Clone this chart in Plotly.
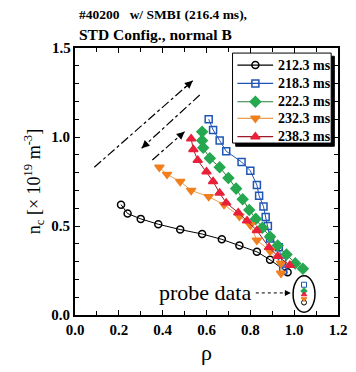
import plotly.graph_objects as go

# ---- data ----
rho_212 = [0.21, 0.24, 0.30, 0.38, 0.48, 0.58, 0.67, 0.75, 0.83, 0.89, 0.97]
n_212 = [0.62, 0.57, 0.54, 0.51, 0.48, 0.455, 0.425, 0.39, 0.355, 0.31, 0.24]

rho_218 = [0.61, 0.63, 0.66, 0.69, 0.76, 0.80, 0.83, 0.84, 0.86, 0.87, 0.88, 0.89, 0.93, 0.945, 0.95]
n_218 = [1.10, 1.04, 0.98, 0.92, 0.86, 0.81, 0.73, 0.67, 0.61, 0.55, 0.50, 0.43, 0.38, 0.30, 0.25]

rho_222 = [0.58, 0.58, 0.585, 0.615, 0.66, 0.70, 0.735, 0.765, 0.795, 0.825, 0.855, 0.89, 0.925, 0.965, 1.005, 1.04]
n_222 = [1.03, 0.98, 0.94, 0.88, 0.83, 0.77, 0.71, 0.65, 0.59, 0.54, 0.49, 0.44, 0.39, 0.34, 0.29, 0.26]

rho_232 = [0.385, 0.42, 0.48, 0.53, 0.61, 0.68, 0.75, 0.80, 0.83, 0.89, 0.94, 0.94]
n_232 = [0.83, 0.79, 0.75, 0.70, 0.665, 0.62, 0.555, 0.505, 0.42, 0.36, 0.29, 0.235]

rho_238 = [0.53, 0.54, 0.56, 0.60, 0.63, 0.66, 0.69, 0.745, 0.785, 0.83, 0.885, 0.925, 0.98]
n_238 = [0.99, 0.93, 0.87, 0.805, 0.75, 0.685, 0.63, 0.575, 0.53, 0.475, 0.38, 0.33, 0.28]

probe_rho = 1.045
probe_n = {"212.3 ms": 0.07, "218.3 ms": 0.17, "222.3 ms": 0.135, "232.3 ms": 0.09, "238.3 ms": 0.115}

series_names = ["212.3 ms", "218.3 ms", "222.3 ms", "232.3 ms", "238.3 ms"]
x_ticks = [0.0, 0.2, 0.4, 0.6, 0.8, 1.0, 1.2]
y_ticks = [0.0, 0.5, 1.0, 1.5]

SERIF = "Liberation Serif, Times New Roman, serif"

styles = {
    "212.3 ms": ("black", "black", "circle-open", 7),
    "218.3 ms": ("#1f55b5", "#1f55b5", "square-open", 7),
    "222.3 ms": ("#2e7d3c", "#25a850", "diamond", 8),
    "232.3 ms": ("#e8a050", "#f07f1e", "triangle-down", 8),
    "238.3 ms": ("#a01828", "#e8203a", "triangle-up", 8),
}
data = {
    "212.3 ms": (rho_212, n_212),
    "218.3 ms": (rho_218, n_218),
    "222.3 ms": (rho_222, n_222),
    "232.3 ms": (rho_232, n_232),
    "238.3 ms": (rho_238, n_238),
}

fig = go.Figure()
for name in series_names:
    lc, mc, sym, sz = styles[name]
    xs, ys = data[name]
    fig.add_trace(go.Scatter(
        x=xs, y=ys, name=name, mode="lines+markers", showlegend=False,
        line=dict(color=lc, width=1),
        marker=dict(symbol=sym, size=sz, color=mc, line=dict(color=mc, width=1.5)),
    ))
# probe data points
for name in series_names:
    lc, mc, sym, sz = styles[name]
    fig.add_trace(go.Scatter(
        x=[probe_rho], y=[probe_n[name]], mode="markers", showlegend=False,
        marker=dict(symbol=sym, size=5, color=mc, line=dict(color=mc, width=1)),
    ))

shapes = []
annotations = []

# ---- hand-drawn legend box (paper = plot-area fraction) ----
leg_x0, leg_x1, leg_y0, leg_y1 = 0.599, 0.974, 0.644, 0.981
shapes.append(dict(type="rect", xref="paper", yref="paper", layer="below",
                   x0=leg_x0 + 0.012, x1=leg_x1 + 0.012, y0=leg_y0 - 0.012, y1=leg_y1 - 0.012,
                   fillcolor="black", line=dict(color="black", width=1)))
shapes.append(dict(type="rect", xref="paper", yref="paper", layer="below",
                   x0=leg_x0, x1=leg_x1, y0=leg_y0, y1=leg_y1,
                   fillcolor="white", line=dict(color="black", width=1)))
# legend sample positions (data units on the fixed axes)
leg_line_x = [0.741, 0.904]
leg_mark_x = 0.823
leg_rows = [1.404, 1.301, 1.198, 1.105, 1.002]
leg_text_x = 0.918
for name, yy in zip(series_names, leg_rows):
    lc, mc, sym, sz = styles[name]
    fig.add_trace(go.Scatter(x=leg_line_x, y=[yy, yy],
                             mode="lines", showlegend=False, hoverinfo="skip",
                             line=dict(color=lc, width=1.2)))
    fig.add_trace(go.Scatter(x=[leg_mark_x], y=[yy],
                             mode="markers", showlegend=False, hoverinfo="skip",
                             marker=dict(symbol=sym, size=sz, color=mc,
                                         line=dict(color=mc, width=1.5))))
    annotations.append(dict(x=leg_text_x, y=yy, xref="x", yref="y", xanchor="left",
                            yanchor="middle", showarrow=False, text=f"<b>{name}</b>",
                            font=dict(family=SERIF, size=14, color="black")))

# dash-dot arrows (tail -> head)
arrows = [((0.088, 0.83), (0.537, 1.316)),
          ((0.569, 1.236), (0.304, 0.937)),
          ((0.353, 0.871), (0.50, 1.03))]
for (tx, ty), (hx, hy) in arrows:
    shapes.append(dict(type="line", xref="x", yref="y", x0=tx, y0=ty, x1=hx, y1=hy,
                       line=dict(color="black", width=1.2, dash="dashdot")))
    f = 0.1
    annotations.append(dict(x=hx, y=hy, ax=hx - f * (hx - tx), ay=hy - f * (hy - ty),
                            xref="x", yref="y", axref="x", ayref="y", text="",
                            showarrow=True, arrowhead=2, arrowsize=1.3,
                            arrowwidth=1.2, arrowcolor="black"))

# probe data ellipse and label
shapes.append(dict(type="circle", xref="x", yref="y", x0=0.995, x1=1.095, y0=0.015, y1=0.22,
                   line=dict(color="black", width=1.5)))
shapes.append(dict(type="line", xref="x", yref="y", x0=0.825, y0=0.124, x1=0.96, y1=0.124,
                   line=dict(color="black", width=1, dash="dot")))
annotations.append(dict(x=0.985, y=0.124, ax=0.95, ay=0.124, xref="x", yref="y",
                        axref="x", ayref="y", text="", showarrow=True, arrowhead=2,
                        arrowsize=1.2, arrowwidth=1, arrowcolor="black"))
annotations.append(dict(x=0.591, y=0.124, xref="x", yref="y", text="probe data",
                        showarrow=False, font=dict(family=SERIF, size=22, color="black")))

# title lines
annotations.append(dict(x=0.007, y=1.124, xref="paper", yref="paper", xanchor="left",
                        yanchor="middle", showarrow=False,
                        text="<b>#40200   w/ SMBI (216.4 ms),</b>",
                        font=dict(family=SERIF, size=13.5, color="black")))
annotations.append(dict(x=0.007, y=1.049, xref="paper", yref="paper", xanchor="left",
                        yanchor="middle", showarrow=False,
                        text="<b>STD Config., normal B</b>",
                        font=dict(family=SERIF, size=15.5, color="black")))

# top y tick label drawn explicitly (axis end label)
y_ticktext = [f"{v:.1f}" for v in y_ticks]
annotations.append(dict(x=0, y=y_ticks[-1], xref="paper", yref="y", xanchor="right",
                        yanchor="middle", xshift=-2, showarrow=False,
                        text=f"<b>{y_ticktext[-1]}</b>",
                        font=dict(family=SERIF, size=15, color="black")))
y_ticktext[-1] = ""

xaxis = dict(
    range=[0, 1.2], tickvals=x_ticks, ticktext=[f"{v:.1f}" for v in x_ticks],
    ticks="inside", ticklen=5, tickwidth=1.2, tickcolor="black",
    minor=dict(dtick=0.1, ticks="inside", ticklen=4, tickcolor="black"),
    showline=True, linecolor="black", linewidth=2, mirror="allticks",
    showgrid=False, zeroline=False, fixedrange=True, ticklabeloverflow="allow",
    tickfont=dict(family=SERIF, size=15, color="black", weight="bold"),
    title=dict(text="ρ", font=dict(family=SERIF, size=22, color="black"), standoff=8),
)
yaxis = dict(
    range=[0, 1.5], tickvals=y_ticks, ticktext=y_ticktext,
    ticks="inside", ticklen=5, tickwidth=1.2, tickcolor="black",
    minor=dict(dtick=0.1, ticks="inside", ticklen=4, tickcolor="black"),
    showline=True, linecolor="black", linewidth=2, mirror="allticks",
    showgrid=False, zeroline=False, fixedrange=True, ticklabeloverflow="allow",
    tickfont=dict(family=SERIF, size=15, color="black", weight="bold"),
    title=dict(text="n<sub>c</sub> [× 10<sup>19</sup> m<sup>-3</sup>]",
               font=dict(family=SERIF, size=18, color="black"), standoff=6),
)

# page body has an 8px default margin: figure is 348x364 placed at (8,8)
fig.update_layout(
    width=348, height=364,
    margin=dict(l=67, r=9, t=40, b=57),
    paper_bgcolor="white", plot_bgcolor="white",
    font=dict(family=SERIF, color="black"),
    showlegend=False,
    shapes=shapes,
    annotations=annotations,
    xaxis=xaxis,
    yaxis=yaxis,
)

fig.write_html("out.html", config={"displayModeBar": False})
